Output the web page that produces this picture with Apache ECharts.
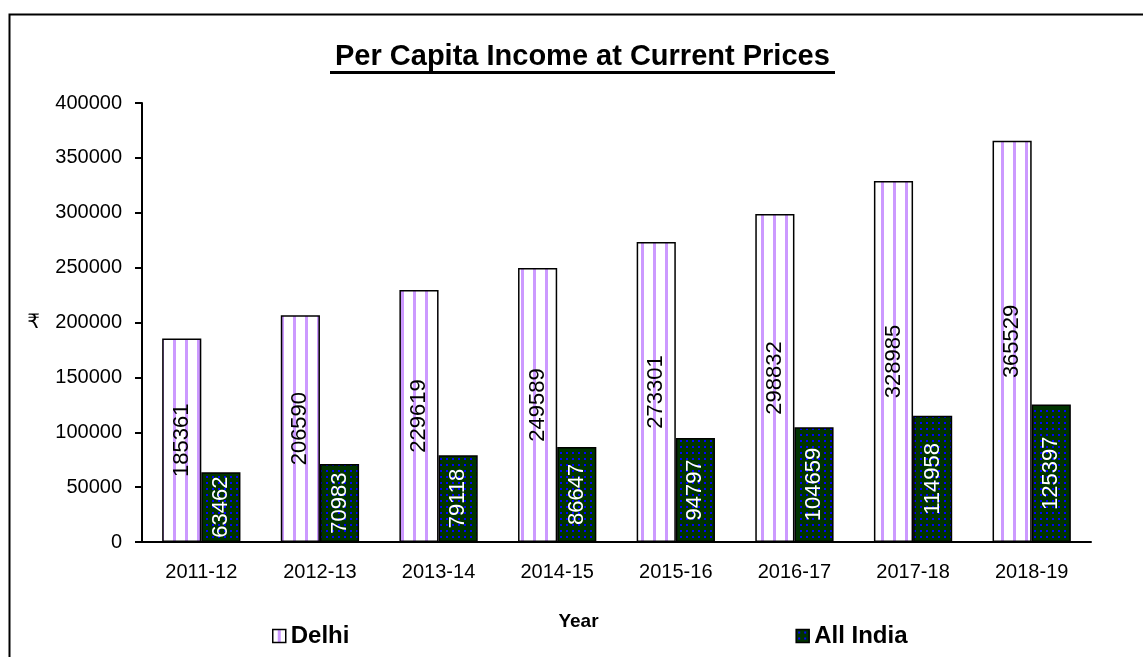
<!DOCTYPE html>
<html>
<head>
<meta charset="utf-8">
<script src="https://cdn.jsdelivr.net/npm/echarts@6/dist/echarts.min.js"></script>
<style>
  html, body { margin: 0; padding: 0; background: #fff; }
  #chart { width: 1143px; height: 657px; }
</style>
</head>
<body>
<div id="chart"></div>
<script>
// values
const years = ['2011-12', '2012-13', '2013-14', '2014-15', '2015-16', '2016-17', '2017-18', '2018-19'];
const delhi = [185361, 206590, 229619, 249589, 273301, 298832, 328985, 365529];
const allIndia = [63462, 70983, 79118, 86647, 94797, 104659, 114958, 125397];
const yTicks = { min: 0, max: 400000, step: 50000 };

const font = "'Liberation Sans', Arial, 'DejaVu Sans', sans-serif";

// white with lavender vertical stripes
function stripePattern() {
  const c = document.createElement('canvas');
  c.width = 12; c.height = 4;
  const ctx = c.getContext('2d');
  ctx.fillStyle = '#ffffff';
  ctx.fillRect(0, 0, 12, 4);
  ctx.fillStyle = '#cc99ff';
  ctx.fillRect(5, 0, 3, 4);
  return c;
}

// dark green with small blue dots
function dotPattern() {
  const c = document.createElement('canvas');
  c.width = 6; c.height = 6;
  const ctx = c.getContext('2d');
  ctx.fillStyle = '#003300';
  ctx.fillRect(0, 0, 6, 6);
  ctx.fillStyle = '#0000ff';
  ctx.fillRect(2, 2, 2, 2);
  return c;
}

const chart = echarts.init(document.getElementById('chart'));

chart.setOption({
  backgroundColor: '#fff',
  animation: false,
  textStyle: { fontFamily: font },
  title: {
    text: 'Per Capita Income at Current Prices',
    left: 330,
    top: 37,
    textStyle: { fontSize: 29, fontWeight: 'bold', color: '#000', fontFamily: font },
  },
  graphic: [
    {
      type: 'rect',
      left: 7, top: 12,
      shape: { width: 1200, height: 700 },
      style: { fill: 'none', stroke: '#000', lineWidth: 2 },
      silent: true,
    },
    {
      type: 'rect',
      left: 330, top: 71,
      shape: { width: 505, height: 3 },
      style: { fill: '#000' },
      silent: true,
    },
  ],
  legend: {
    data: ['Delhi', 'All India'],
    left: 267,
    top: 619,
    itemGap: 446,
    itemWidth: 13,
    itemHeight: 13,
    itemStyle: { borderWidth: 1.5 },
    icon: 'rect',
    textStyle: { fontSize: 24, fontWeight: 'bold', color: '#000', fontFamily: font },
  },
  grid: {
    left: 142,
    right: 52,
    top: 103,
    bottom: 115,
  },
  xAxis: {
    type: 'category',
    data: years,
    name: 'Year',
    nameLocation: 'middle',
    nameGap: 70,
    nameTextStyle: { fontSize: 19, fontWeight: 'bold', color: '#000', padding: [0, 76, 0, 0] },
    axisLine: { lineStyle: { color: '#000', width: 2 } },
    axisTick: { length: 7, lineStyle: { color: '#000', width: 2 } },
    axisLabel: { fontSize: 20, color: '#000', margin: 20 },
    splitLine: { show: false },
  },
  yAxis: {
    type: 'value',
    min: yTicks.min,
    max: yTicks.max,
    interval: yTicks.step,
    name: '₹',
    nameLocation: 'middle',
    nameRotate: 0,
    nameGap: 102,
    nameTextStyle: { fontSize: 20, color: '#000' },
    axisLine: { show: true, lineStyle: { color: '#000', width: 2 } },
    axisTick: { show: true, length: 7, lineStyle: { color: '#000', width: 2 } },
    axisLabel: { fontSize: 20, color: '#000', margin: 20, formatter: (v) => String(v) },
    splitLine: { show: false },
  },
  series: [
    {
      name: 'Delhi',
      type: 'bar',
      data: delhi,
      barGap: '0%',
      barCategoryGap: '34%',
      itemStyle: {
        color: { image: stripePattern(), repeat: 'repeat' },
        borderColor: '#000',
        borderWidth: 1.5,
      },
      label: {
        show: true,
        position: 'inside',
        rotate: 90,
        fontSize: 22,
        color: '#000',
      },
    },
    {
      name: 'All India',
      type: 'bar',
      data: allIndia,
      itemStyle: {
        color: { image: dotPattern(), repeat: 'repeat' },
        borderColor: '#000',
        borderWidth: 1.5,
      },
      label: {
        show: true,
        position: 'inside',
        rotate: 90,
        fontSize: 22,
        color: '#fff',
      },
    },
  ],
});
</script>
</body>
</html>
